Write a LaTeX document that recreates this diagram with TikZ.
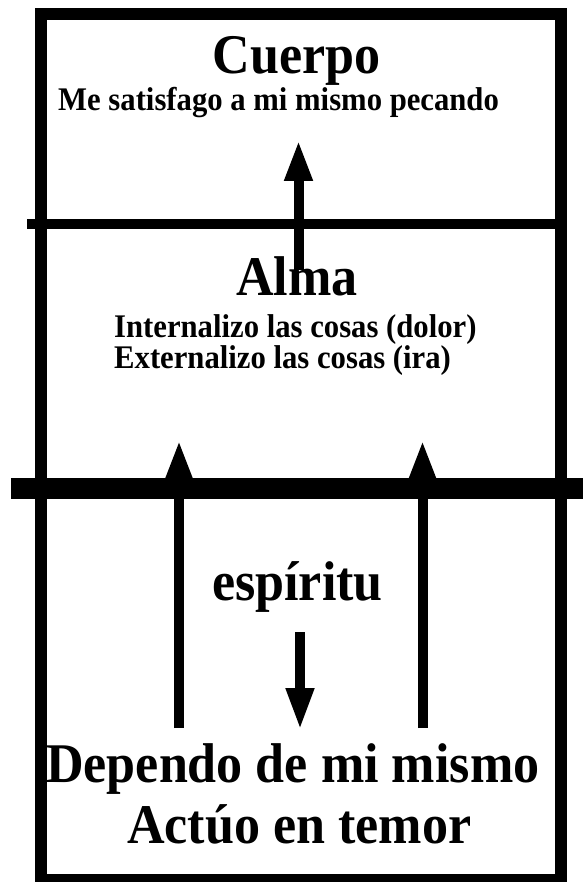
\documentclass[tikz,border=0pt]{standalone}
\usepackage{fontspec}
\setmainfont{Liberation Serif}
\newfontfamily\narrowserif[FakeStretch=0.93]{Liberation Serif}
\usetikzlibrary{arrows.meta}
\begin{document}
\begin{tikzpicture}[x=1pt,y=-1pt,
  bigtxt/.style={inner sep=0pt,font=\narrowserif\fontsize{56}{61}\selectfont\bfseries},
  smalltxt/.style={inner sep=0pt,font=\narrowserif\fontsize{33}{32}\selectfont\bfseries},
  frame/.style={line width=12pt},
  thinsep/.style={line width=10pt},
  thicksep/.style={line width=21pt},
  arr/.style={line width=10pt,-{Triangle[length=41pt,width=26pt]}}]
\useasboundingbox (0,0) rectangle (583,882);
\begin{scope}
\clip (0,0) rectangle (583,882);
% outer frame
\draw[frame] (41,14) rectangle (561,880);
% separators
\draw[thinsep] (27,224) -- (561,224);
\draw[thicksep] (11,488.5) -- (583,488.5);
\end{scope}
% texts
\node[bigtxt,anchor=base] (cuerpo) at (296.5,74) {Cuerpo};
\node[smalltxt,anchor=base west] (cuerpotxt) at (58,111) {Me satisfago a mi mismo pecando};
\node[bigtxt,anchor=base] (alma) at (297,295) {Alma};
\node[smalltxt,anchor=base west] (alma1) at (114,337) {Internalizo las cosas (dolor)};
\node[smalltxt,anchor=base west] (alma2) at (114,368) {Externalizo las cosas (ira)};
\node[bigtxt,anchor=base] (espiritu) at (297.5,600) {espíritu};
\node[bigtxt,anchor=base west] (dependo) at (46,782) {Dependo de mi mismo};
\node[bigtxt,anchor=base west] (actuo) at (127,843) {Actúo en temor};
% arrow end points
\coordinate (a1s) at (298.5,270);
\coordinate (a1e) at (298.5,140);
\coordinate (a2s) at (179,728);
\coordinate (a2e) at (179,440);
\coordinate (a3s) at (422.5,728);
\coordinate (a3e) at (422.5,440);
\coordinate (a4s) at (300,632);
\coordinate (a4e) at (300,730);
\draw[arr] (a1s) -- (a1e);
\draw[arr,-{Triangle[length=38pt,width=24pt]}] (a2s) -- (a2e);
\draw[arr,-{Triangle[length=38pt,width=24pt]}] (a3s) -- (a3e);
\draw[arr,-{Triangle[length=42pt,width=26pt]}] (a4s) -- (a4e);
\end{tikzpicture}
\end{document}
